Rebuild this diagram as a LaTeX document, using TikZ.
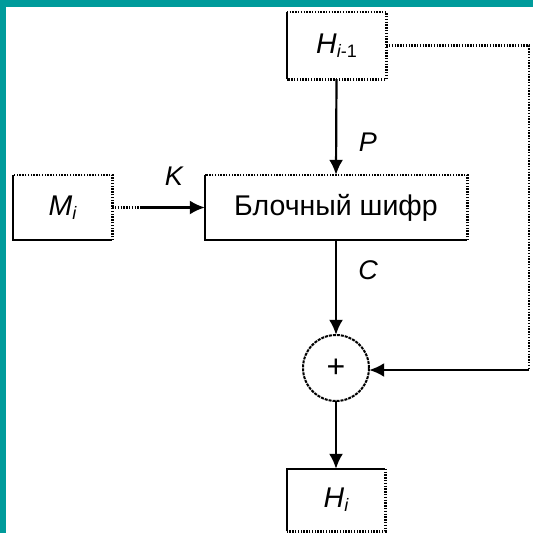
\documentclass[tikz,border=0pt]{standalone}
\usepackage{fontspec}
\setmainfont{Liberation Sans}
\usetikzlibrary{arrows.meta}
\definecolor{bordteal}{HTML}{009B9B}
\begin{document}
\begin{tikzpicture}[x=1pt,y=-1pt,
  solidln/.style={line width=2.2pt},
  dotln/.style={line width=2.6pt, dash pattern=on 1.4pt off 1.4pt},
  circln/.style={line width=2pt, dash pattern=on 3pt off 1pt},
  arr/.style={-{Latex[length=15pt,width=14pt]}},
  boxnode/.style={inner sep=0pt, font=\fontsize{28.5}{32}\selectfont},
  lbl/.style={font=\fontsize{27}{30}\selectfont\itshape}
]
\useasboundingbox (0,0) rectangle (533,533);
\fill[bordteal] (0,0) rectangle (533,7);
\fill[bordteal] (0,0) rectangle (6,533);

\node[boxnode, minimum width=99pt, minimum height=67pt] (hm1) at (336.5,45.5) {\itshape H\raisebox{-0.25ex}{\upshape\fontsize{18}{20}\selectfont\itshape i\upshape -1}};
\node[boxnode, minimum width=262pt, minimum height=65pt] (blk) at (336,207.5) {Блочный шифр};
\node[boxnode, minimum width=99pt, minimum height=65pt] (m) at (62.5,207.5) {\itshape M\raisebox{-0.25ex}{\fontsize{18}{20}\selectfont i}};
\node[boxnode, minimum width=98pt, minimum height=62pt] (hi) at (336,500) {\itshape H\raisebox{-0.25ex}{\fontsize{18}{20}\selectfont i}};
\node[circle, minimum size=66pt, inner sep=0pt, font=\fontsize{32}{34}\selectfont] (xr) at (336,368) {+};
\draw[circln] (xr.center) circle (33pt);

% box edges
\draw[solidln] (hm1.south west) -- (hm1.north west);
\draw[dotln] (hm1.north west) -- (hm1.north east) -- (hm1.south east) -- (hm1.south west);
\draw[solidln] (m.north west) -- (m.south west) -- (m.south east);
\draw[dotln] (m.south east) -- (m.north east) -- (m.north west);
\draw[solidln] (blk.north west) -- (blk.south west) -- (blk.south east);
\draw[dotln] (blk.south east) -- (blk.north east) -- (blk.north west);
\draw[solidln] (hi.south west) -- (hi.north west) -- (hi.north east);
\draw[dotln] (hi.north east) -- (hi.south east) -- (hi.south west);

% connectors
\draw[solidln, arr] (hm1.south) -- (blk.north);
\draw[solidln, arr] (blk.south) -- (xr.north);
\draw[solidln, arr] (xr.south) -- (hi.north);
\coordinate (mk) at (142,207.5);
\draw[dotln] (m.east) -- (mk);
\draw[solidln, arr] (mk) -- (blk.west);
\coordinate (c1) at (529,45.5);
\coordinate (c2) at (529,370);
\draw[dotln] (hm1.east) -- (c1) -- (c2);
\draw[solidln, arr] (c2) -- (xr.east |- c2);

% labels
\node[lbl] (lk) at (174,176) {K};
\node[lbl] (lp) at (368,142) {P};
\node[lbl] (lc) at (368,270) {C};
\end{tikzpicture}
\end{document}
